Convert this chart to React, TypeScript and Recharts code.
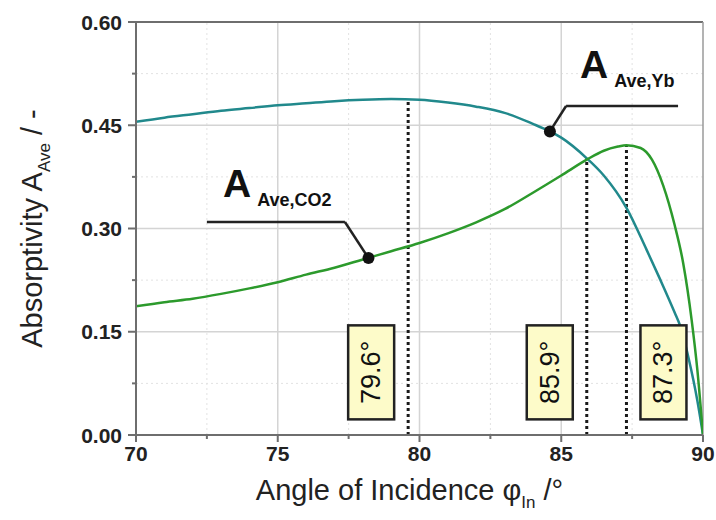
import { LineChart, Line, XAxis, YAxis, ReferenceLine, ReferenceDot } from "recharts";

// angle of incidence (deg) and average absorptivity
const ANGLES_YB = [70, 71, 72, 73, 74, 75, 76, 77, 78, 79, 80, 81, 82, 83, 84, 84.6, 85, 85.9, 86.5, 87.3, 88, 88.5, 89, 89.2, 89.5, 89.8, 90];
const VALUES_YB = [0.455, 0.461, 0.466, 0.471, 0.475, 0.479, 0.482, 0.485, 0.487, 0.488, 0.487, 0.483, 0.477, 0.468, 0.452, 0.441, 0.432, 0.402, 0.377, 0.33, 0.27, 0.225, 0.178, 0.158, 0.11, 0.05, 0];

const ANGLES_CO2 = [70, 71, 72, 73, 74, 75, 76, 77, 78, 79, 80, 81, 82, 83, 84, 85, 85.9, 86.5, 87, 87.3, 87.8, 88.2, 88.6, 89, 89.3, 89.6, 89.8, 90];
const VALUES_CO2 = [0.187, 0.193, 0.198, 0.205, 0.213, 0.222, 0.233, 0.243, 0.255, 0.267, 0.279, 0.293, 0.309, 0.328, 0.352, 0.377, 0.4, 0.413, 0.419, 0.421, 0.417, 0.4, 0.362, 0.305, 0.25, 0.167, 0.095, 0];

const X_TICKS = [70, 75, 80, 85, 90];
const X_MINOR = [72.5, 77.5, 82.5, 87.5];
const Y_TICKS = [0, 0.15, 0.3, 0.45, 0.6];
const Y_MINOR = [0.075, 0.225, 0.375, 0.525];

// marked angles, with the curve value where each dotted line stops
const MARK_ANGLES = [79.6, 85.9, 87.3];
const MARK_TOPS = [0.488, 0.402, 0.421];
const MARK_LABELS = ["79.6°", "85.9°", "87.3°"];
const MARK_SIDES = [-1, -1, 1];

const YB_DATA = ANGLES_YB.map((angle, i) => ({ angle, value: VALUES_YB[i] }));
const CO2_DATA = ANGLES_CO2.map((angle, i) => ({ angle, value: VALUES_CO2[i] }));

const TEAL = "#21898c";
const GREEN = "#2c9a2c";
const AXIS = "#6e6e6e";
const FONT = "'Liberation Sans', Arial, sans-serif";

function XTick({ x, y, payload }: any) {
  const major = X_TICKS.includes(payload.value);
  return (
    <g>
      <line x1={x} x2={x} y1={y} y2={y + (major ? 7 : 4)} stroke={AXIS} strokeWidth={2} />
      {major && (
        <text x={x} y={y + 26} textAnchor="middle" fontSize={21} fontWeight="bold" fill="#222" fontFamily={FONT}>
          {payload.value}
        </text>
      )}
    </g>
  );
}

function YTick({ x, y, payload }: any) {
  const major = Y_TICKS.includes(payload.value);
  return (
    <g>
      <line x1={x - (major ? 8 : 4)} x2={x} y1={y} y2={y} stroke={AXIS} strokeWidth={2} />
      {major && (
        <text x={x - 14} y={y + 7.5} textAnchor="end" fontSize={21} fontWeight="bold" fill="#222" fontFamily={FONT}>
          {payload.value.toFixed(2)}
        </text>
      )}
    </g>
  );
}

function YLabel({ viewBox }: any) {
  const px = viewBox.x + 42;
  const py = viewBox.y + viewBox.height / 2;
  return (
    <text x={px} y={py} transform={`rotate(-90 ${px} ${py})`} textAnchor="middle" fontSize={29} fill="#222" fontFamily={FONT}>
      Absorptivity A
      <tspan fontSize={17} dy={8}>Ave</tspan>
      <tspan dy={-8}> / -</tspan>
    </text>
  );
}

function XLabel({ viewBox }: any) {
  return (
    <text x={viewBox.x + viewBox.width / 2 - 10} y={viewBox.y + 65} textAnchor="middle" fontSize={29} fill="#222" fontFamily={FONT}>
      Angle of Incidence φ
      <tspan fontSize={17} dy={8}>In</tspan>
      <tspan dy={-8}> /°</tspan>
    </text>
  );
}

function SeriesLabel({ cx, cy, sub }: any) {
  return (
    <text x={cx} y={cy} fontSize={39} fontWeight="bold" fill="#111" fontFamily={FONT}>
      A
      <tspan fontSize={18} dx={6} dy={9}>{sub}</tspan>
    </text>
  );
}

function AngleBox({ cx, cy, label, side }: any) {
  const w = 46;
  const h = 94;
  const bx = cx + side * 37;
  return (
    <g>
      <rect x={bx - w / 2} y={cy - h / 2} width={w} height={h} fill="#fdfbc9" stroke="#222" strokeWidth={2.5} />
      <text
        x={bx}
        y={cy}
        transform={`rotate(-90 ${bx} ${cy})`}
        textAnchor="middle"
        dominantBaseline="central"
        fontSize={27}
        fill="#111"
        fontFamily={FONT}
      >
        {label}
      </text>
    </g>
  );
}

export default function App() {
  return (
    <div style={{ position: "absolute", left: 0, top: 0, background: "#fff" }}>
      <LineChart width={716} height={520} margin={{ top: 22, right: 13, left: 0, bottom: 0 }}>
        <XAxis
          type="number"
          dataKey="angle"
          domain={[70, 90]}
          ticks={[...X_TICKS, ...X_MINOR].sort((a, b) => a - b)}
          interval={0}
          allowDataOverflow
          height={85}
          stroke={AXIS}
          strokeWidth={2}
          tickLine={false}
          tickSize={0}
          tickMargin={0}
          tick={<XTick />}
          label={{ content: <XLabel /> }}
        />
        <YAxis
          type="number"
          dataKey="value"
          domain={[0, 0.6]}
          ticks={[...Y_TICKS, ...Y_MINOR].sort((a, b) => a - b)}
          interval={0}
          allowDataOverflow
          width={136}
          stroke={AXIS}
          strokeWidth={2}
          tickLine={false}
          tickSize={0}
          tickMargin={0}
          tick={<YTick />}
          label={{ content: <YLabel /> }}
        />

        {X_MINOR.map((v) => (
          <ReferenceLine key={`xm${v}`} x={v} stroke="#e2e2e2" strokeDasharray="2 3" />
        ))}
        {Y_MINOR.map((v) => (
          <ReferenceLine key={`ym${v}`} y={v} stroke="#e2e2e2" strokeDasharray="2 3" />
        ))}
        {X_TICKS.slice(1, -1).map((v) => (
          <ReferenceLine key={`x${v}`} x={v} stroke="#d4d4d4" strokeWidth={1.5} />
        ))}
        {Y_TICKS.slice(1, -1).map((v) => (
          <ReferenceLine key={`y${v}`} y={v} stroke="#d4d4d4" strokeWidth={1.5} />
        ))}
        <ReferenceLine y={0.6} stroke={AXIS} strokeWidth={2} />
        <ReferenceLine x={90} stroke="#9a9a9a" strokeWidth={1.5} />

        {MARK_ANGLES.map((a, i) => (
          <ReferenceLine
            key={`m${a}`}
            segment={[{ x: a, y: 0 }, { x: a, y: MARK_TOPS[i] }]}
            stroke="#1a1a1a"
            strokeWidth={3}
            strokeDasharray="3 3"
          />
        ))}
        {MARK_ANGLES.map((a, i) => (
          <ReferenceDot
            key={`b${a}`}
            x={a}
            y={0.091}
            r={0}
            shape={(p: any) => <AngleBox cx={p.cx} cy={p.cy} label={MARK_LABELS[i]} side={MARK_SIDES[i]} />}
          />
        ))}

        <Line data={YB_DATA} dataKey="value" type="monotone" stroke={TEAL} strokeWidth={2.5} dot={false} isAnimationActive={false} />
        <Line data={CO2_DATA} dataKey="value" type="monotone" stroke={GREEN} strokeWidth={2.5} dot={false} isAnimationActive={false} />

        {/* leader lines and labels */}
        <ReferenceLine segment={[{ x: 84.6, y: 0.441 }, { x: 85.17, y: 0.478 }]} stroke="#222" strokeWidth={2.5} />
        <ReferenceLine segment={[{ x: 85.17, y: 0.478 }, { x: 89.12, y: 0.478 }]} stroke="#222" strokeWidth={2.5} />
        <ReferenceLine segment={[{ x: 72.5, y: 0.3094 }, { x: 77.37, y: 0.3094 }]} stroke="#222" strokeWidth={2.5} />
        <ReferenceLine segment={[{ x: 77.37, y: 0.3094 }, { x: 78.2, y: 0.257 }]} stroke="#222" strokeWidth={2.5} />
        <ReferenceDot x={84.6} y={0.441} r={6} fill="#111" stroke="none" />
        <ReferenceDot x={78.2} y={0.257} r={6} fill="#111" stroke="none" />
        <ReferenceDot x={85.66} y={0.5186} r={0} shape={(p: any) => <SeriesLabel cx={p.cx} cy={p.cy} sub="Ave,Yb" />} />
        <ReferenceDot x={73.07} y={0.3458} r={0} shape={(p: any) => <SeriesLabel cx={p.cx} cy={p.cy} sub="Ave,CO2" />} />
      </LineChart>
    </div>
  );
}
